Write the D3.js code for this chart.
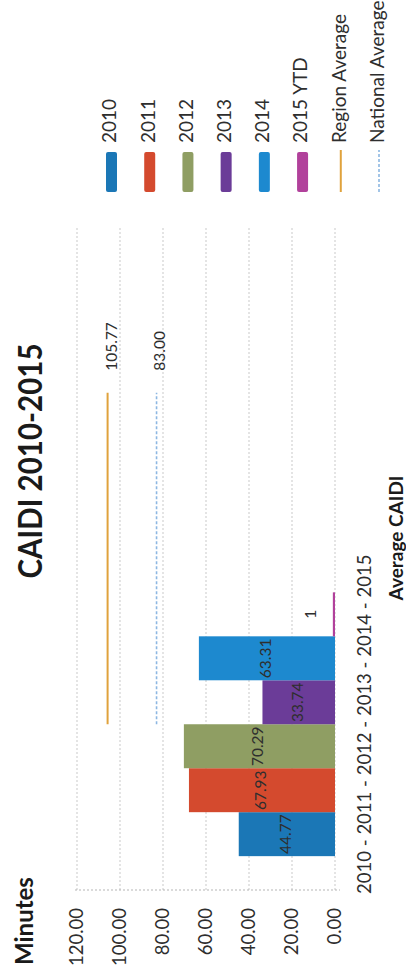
<!DOCTYPE html>
<html>
<head>
<meta charset="utf-8">
<script src="https://cdn.jsdelivr.net/npm/d3@7"></script>
<style>
  html, body { margin: 0; padding: 0; background: #ffffff; }
  svg { display: block; }
  text { font-family: Lato, "Open Sans", sans-serif; }
</style>
</head>
<body>
<div id="chart"></div>
<script>
// CAIDI by year, with region and national averages
const categories = ["2010 - 2011 - 2012 - 2013 - 2014 - 2015", ""];
const seriesNames = ["2010", "2011", "2012", "2013", "2014", "2015 YTD"];
const caidiValues = [44.77, 67.93, 70.29, 33.74, 63.31, 1];
const seriesColors = ["#1b77b6", "#d44a2e", "#8f9e63", "#6b3c98", "#1d89cf", "#b1419b"];
const regionAverage = [105.77, 105.77];
const nationalAverage = [83.00, 83.00];
const valueTicks = [0, 20, 40, 60, 80, 100, 120];

const pageW = 406, pageH = 977;
// the chart is laid out landscape and turned a quarter turn on the page
const plot = { left: 87, right: 750, top: 77, bottom: 335 };
const textColor = "#2e2e2e";

const svg = d3.select("#chart").append("svg")
  .attr("width", pageW).attr("height", pageH);
const g = svg.append("g").attr("transform", `translate(0,${pageH}) rotate(-90)`);

const x0 = d3.scaleBand().domain(categories).range([plot.left, plot.right]).padding(0);
const x1 = d3.scaleBand().domain(seriesNames).range([0, x0.bandwidth()])
  .paddingInner(0).paddingOuter(0.77);
const y = d3.scaleLinear().domain([0, 120]).range([plot.bottom, plot.top]);

// gridlines
g.append("g").selectAll("line").data(valueTicks).join("line")
  .attr("x1", plot.left).attr("x2", plot.right)
  .attr("y1", d => y(d)).attr("y2", d => y(d))
  .attr("stroke", "#c9c9c9").attr("stroke-width", 1)
  .attr("stroke-dasharray", "2,2");

// value axis
const yAxis = g.append("g").attr("transform", `translate(${plot.left},0)`)
  .call(d3.axisLeft(y).tickValues(valueTicks).tickFormat(d3.format(".2f"))
    .tickSize(0).tickSizeOuter(0).tickPadding(18));
yAxis.select(".domain").attr("stroke", "#b5b5b5").attr("stroke-dasharray", "2,2")
  .attr("d", `M0,${y(120) - 2}V${y(0) + 5}`);
yAxis.selectAll(".tick text").attr("font-size", 18.5).attr("fill", textColor)
  .attr("font-family", "Lato, 'Open Sans', sans-serif");

// category axis label
const xAxis = g.append("g").attr("transform", `translate(0,${plot.bottom})`)
  .call(d3.axisBottom(x0).tickSize(0).tickPadding(23));
xAxis.select(".domain").remove();
xAxis.selectAll(".tick text").attr("font-size", 18.5).attr("fill", textColor)
  .attr("font-family", "Lato, 'Open Sans', sans-serif");

// bars
const barData = seriesNames.map((s, i) => ({ s, v: caidiValues[i], c: seriesColors[i] }));
const cat = categories[0];
g.append("g").selectAll("rect").data(barData).join("rect")
  .attr("x", d => x0(cat) + x1(d.s))
  .attr("width", x1.bandwidth())
  .attr("y", d => y(d.v))
  .attr("height", d => y(0) - y(d.v))
  .attr("fill", d => d.c);

// bar value labels
g.append("g").selectAll("text").data(barData).join("text")
  .attr("x", d => x0(cat) + x1(d.s) + x1.bandwidth() / 2)
  .attr("y", d => (y(0) - y(d.v)) < 20 ? y(d.v) - 21 : (y(d.v) + y(0)) / 2)
  .attr("text-anchor", "middle").attr("dominant-baseline", "middle")
  .attr("font-size", 15.5).attr("fill", textColor)
  .text(d => d.v === Math.round(d.v) && d.v < 10 ? String(d.v) : d3.format(".2f")(d.v));

// average lines
const lines = [
  { name: "Region Average", vals: regionAverage, color: "#e0a23c", dash: null, w: 2 },
  { name: "National Average", vals: nationalAverage, color: "#8db7e2", dash: "3,2", w: 1.6 }
];
const lineGen = d3.line().x((d, i) => x0(categories[i]) + x0.bandwidth() / 2).y(d => y(d));
lines.forEach(l => {
  g.append("path").attr("d", lineGen(l.vals)).attr("fill", "none")
    .attr("stroke", l.color).attr("stroke-width", l.w)
    .attr("stroke-dasharray", l.dash);
  const last = l.vals.length - 1;
  g.append("text")
    .attr("x", x0(categories[last]) + x0.bandwidth() / 2 + 22)
    .attr("y", y(l.vals[last]) + 5)
    .attr("dominant-baseline", "middle")
    .attr("font-size", 15.5).attr("fill", textColor)
    .text(d3.format(".2f")(l.vals[last]));
});

// titles
g.append("text").attr("x", 516).attr("y", 42).attr("text-anchor", "middle")
  .attr("font-size", 33).attr("font-weight", 700).attr("fill", "#1a1a1a")
  .attr("textLength", 235).attr("lengthAdjust", "spacingAndGlyphs")
  .text("CAIDI 2010-2015");
g.append("text").attr("x", 12).attr("y", 33)
  .attr("font-size", 24).attr("font-weight", 700).attr("fill", "#1a1a1a")
  .text("Minutes");
g.append("text").attr("x", 439).attr("y", 403).attr("text-anchor", "middle")
  .attr("font-size", 19).attr("font-weight", 700).attr("fill", "#1a1a1a")
  .text("Average CAIDI");

// legend
const legendItems = seriesNames.map((s, i) => ({ name: s, color: seriesColors[i], type: "bar" }))
  .concat(lines.map(l => ({ name: l.name, color: l.color, type: "line", dash: l.dash, w: l.w })));
const legend = g.append("g");
const legendY = d3.scalePoint().domain(legendItems.map(d => d.name)).range([111.5, 379]);
legendItems.forEach(d => {
  const cy = legendY(d.name);
  if (d.type === "bar") {
    legend.append("rect").attr("x", 785).attr("y", cy - 5.5).attr("width", 40).attr("height", 11)
      .attr("rx", 2).attr("fill", d.color);
  } else {
    legend.append("line").attr("x1", 785).attr("x2", 827).attr("y1", cy).attr("y2", cy)
      .attr("stroke", d.color).attr("stroke-width", d.w).attr("stroke-dasharray", d.dash);
  }
  legend.append("text").attr("x", 834).attr("y", cy).attr("dominant-baseline", "middle")
    .attr("font-size", 19).attr("fill", textColor).text(d.name);
});
</script>
</body>
</html>
